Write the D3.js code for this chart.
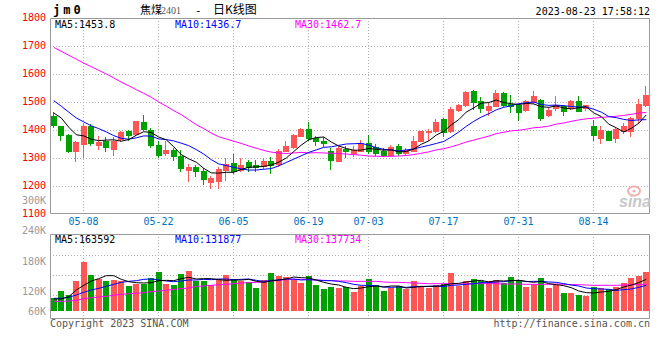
<!DOCTYPE html>
<html><head><meta charset="utf-8">
<script src="https://cdn.jsdelivr.net/npm/d3@7"></script>
<style>body{margin:0;background:#fff}svg{display:block}</style>
</head><body><svg id="c" width="660" height="360"></svg>
<script>
// ---------------- data ----------------
const dates = ["04-27","04-28","05-04","05-05","05-08","05-09","05-10","05-11","05-12","05-15","05-16","05-17","05-18","05-19","05-22","05-23","05-24","05-25","05-26","05-29","05-30","05-31",
"06-01","06-02","06-05","06-06","06-07","06-08","06-09","06-12","06-13","06-14","06-15","06-16","06-19","06-20","06-21","06-26","06-27","06-28","06-29","06-30",
"07-03","07-04","07-05","07-06","07-07","07-10","07-11","07-12","07-13","07-14","07-17","07-18","07-19","07-20","07-21","07-24","07-25","07-26","07-27","07-28","07-31",
"08-01","08-02","08-03","08-04","08-07","08-08","08-09","08-10","08-11","08-14","08-15","08-16","08-17","08-18","08-21","08-22","08-23"];
const open  = [1449,1413,1383,1324,1351,1415,1345,1362,1332,1369,1398,1386,1430,1401,1348,1318,1330,1308,1258,1267,1255,1213,1217,1256,1282,1256,1285,1276,1270,1290,1279,1326,1338,1380,1405,1371,1362,1324,1290,1333,1318,1326,1354,1338,1326,1312,1342,1318,1326,1362,1392,1395,1439,1398,1473,1488,1540,1505,1473,1487,1532,1493,1488,1473,1500,1508,1452,1479,1484,1479,1502,1479,1413,1371,1395,1371,1398,1398,1443,1490];
const high  = [1464,1415,1385,1360,1425,1423,1380,1374,1374,1395,1401,1433,1452,1407,1362,1360,1336,1330,1279,1276,1264,1234,1268,1300,1314,1300,1294,1294,1300,1302,1333,1362,1386,1407,1427,1380,1375,1336,1342,1342,1342,1365,1383,1350,1336,1345,1350,1336,1377,1398,1404,1439,1443,1481,1493,1538,1543,1517,1496,1544,1534,1524,1490,1508,1538,1512,1481,1520,1490,1508,1520,1490,1437,1413,1398,1407,1425,1445,1512,1558];
const low   = [1410,1363,1320,1288,1302,1345,1333,1326,1312,1362,1365,1383,1400,1338,1302,1312,1294,1252,1219,1234,1207,1192,1192,1223,1247,1252,1252,1252,1264,1246,1270,1324,1336,1377,1365,1345,1342,1262,1288,1302,1306,1324,1318,1312,1306,1310,1312,1312,1324,1360,1365,1393,1377,1393,1469,1486,1476,1464,1455,1484,1484,1464,1434,1469,1496,1437,1449,1473,1452,1476,1467,1473,1365,1354,1365,1357,1389,1380,1425,1484];
const close = [1417,1383,1326,1356,1415,1354,1357,1338,1360,1392,1383,1431,1405,1345,1312,1330,1308,1266,1267,1252,1224,1227,1262,1279,1252,1276,1267,1267,1290,1276,1326,1342,1383,1405,1371,1362,1352,1294,1336,1326,1330,1354,1326,1318,1310,1338,1318,1330,1362,1395,1398,1427,1393,1476,1490,1536,1500,1479,1487,1532,1490,1484,1464,1505,1520,1443,1473,1490,1467,1502,1469,1488,1381,1401,1365,1404,1415,1443,1494,1524];
const ma5  = [1461,1443,1410,1383,1379,1367,1362,1364,1365,1360,1366,1381,1394,1391,1375,1365,1340,1312,1297,1285,1263,1247,1246,1249,1249,1259,1267,1268,1270,1275,1285,1300,1323,1346,1365,1373,1375,1357,1343,1334,1328,1328,1334,1331,1328,1329,1322,1323,1332,1349,1361,1382,1395,1418,1437,1464,1479,1496,1498,1507,1498,1494,1491,1495,1493,1483,1481,1486,1479,1475,1480,1483,1461,1448,1421,1408,1393,1406,1424,1454];
const ma10 = [1505,1485,1464,1443,1429,1415,1405,1393,1380,1370,1367,1372,1379,1378,1368,1366,1361,1353,1344,1330,1314,1294,1279,1273,1267,1261,1257,1257,1260,1262,1272,1284,1296,1308,1320,1329,1338,1340,1345,1350,1351,1352,1346,1337,1331,1329,1325,1329,1332,1339,1345,1352,1359,1375,1393,1413,1431,1446,1458,1472,1481,1487,1494,1497,1500,1491,1488,1489,1487,1484,1482,1482,1474,1464,1448,1444,1438,1434,1436,1437];
const ma30 = [1695,1681,1667,1653,1639,1626,1613,1600,1586,1571,1558,1544,1531,1517,1500,1485,1469,1455,1437,1419,1405,1389,1376,1368,1360,1352,1343,1335,1327,1321,1318,1316,1318,1320,1318,1319,1318,1317,1316,1314,1312,1310,1307,1306,1306,1306,1307,1309,1312,1317,1322,1329,1333,1340,1348,1357,1364,1371,1378,1387,1392,1397,1399,1403,1408,1410,1414,1421,1425,1431,1436,1440,1442,1445,1447,1449,1452,1456,1460,1463];
const volume = [112,132,119,161,219,179,169,161,164,161,146,154,154,171,189,154,149,182,192,161,161,149,168,179,167,161,159,141,164,186,177,174,169,156,177,149,137,144,141,144,129,146,167,149,131,141,146,137,161,144,141,149,152,186,146,161,167,161,161,164,157,174,164,144,152,170,141,149,126,126,119,116,144,141,137,144,156,171,177,189].map(v => v * 1000);
const volMa5  = [108,108,115,135,149,162,169,178,178,167,160,157,156,157,163,164,163,169,173,168,169,169,166,164,165,165,167,161,158,162,165,168,174,172,171,165,158,153,150,143,139,141,145,147,144,147,147,141,143,146,146,146,149,154,155,159,162,164,159,163,162,163,164,161,158,161,154,151,148,142,132,127,126,129,131,136,144,150,157,167].map(v => v * 1000);
const volMa10 = [110,110,113,120,128,135,140,146,152,158,161,163,167,168,165,162,160,162,165,165,167,166,168,168,166,167,168,164,161,164,165,168,168,165,166,165,163,163,161,157,152,149,149,148,144,143,144,143,145,145,146,147,145,149,150,152,154,157,157,159,160,163,164,160,161,161,159,158,154,150,147,141,139,138,137,134,136,138,143,149].map(v => v * 1000);
const volMa30 = [101,101,102,104,109,112,114,116,119,122,124,125,127,130,132,134,137,139,141,146,147,149,151,152,154,156,157,158,159,162,164,166,167,167,166,165,164,163,162,162,161,161,161,161,159,158,158,157,156,155,154,154,154,154,153,153,154,154,154,154,153,153,153,152,152,152,152,153,152,151,151,150,149,149,149,149,150,151,151,153].map(v => v * 1000);

const priceTicks = [1100,1200,1300,1400,1500,1600,1700,1800];
const priceGrid = [1200,1300,1400,1500,1600,1700];
const volGrid = [120000,180000,240000];
const volLabelValues = [300000,240000,180000,120000,60000];
const volLabelTexts = ["300K","240K","180K","120K","60K"];
const dateTicks = ["05-08","05-22","06-05","06-19","07-03","07-17","07-31","08-14"];
const header = {code:"jm0", name:"焦煤", contract:"2401", title:"日K线图", time:"2023-08-23 17:58:12"};
const priceMaLabels = ["MA5:1453.8","MA10:1436.7","MA30:1462.7"];
const volMaLabels = ["MA5:163592","MA10:131877","MA30:137734"];

// ---------------- drawing ----------------
const svg = d3.select("#c");
const MONO = "'DejaVu Sans Mono', monospace";
const RED = "#ff5555", GREEN = "#00a000";
const L = 50, R = 650;
const P_TOP = 18, P_BOT = 214;
const V_TOP = 234, V_BASE = 311, V_BOT = 318;

const x = d3.scaleBand().domain(dates).range([L, R]).paddingInner(0.2).paddingOuter(0.1);
const cx = d => x(d) + x.bandwidth() / 2;
const yP = d3.scaleLinear().domain([1100, 1800]).range([P_BOT, P_TOP]);
const yV = d3.scaleLinear().domain([72000, 303000]).range([V_BASE, V_TOP]);
const yVLabel = d3.scaleLinear().domain(volLabelValues.slice().reverse()).range([315, 295, 265, 233.5, 204]);

const idx = d3.range(dates.length);
const isUp = i => close[i] >= open[i];

// Gridlines
const grid = svg.append("g").attr("stroke", "#b0b0b0").attr("stroke-dasharray", "1,2").attr("fill", "none");
priceGrid.forEach(v => {
  const yy = Math.round(yP(v)) + 0.5;
  grid.append("line").attr("x1", L).attr("x2", R).attr("y1", yy).attr("y2", yy);
});
volGrid.forEach(v => {
  const yy = Math.round(yV(v)) + 0.5;
  grid.append("line").attr("x1", L).attr("x2", R).attr("y1", yy).attr("y2", yy);
});
dateTicks.forEach(d => {
  const xx = Math.round(cx(d)) - 0.5;
  grid.append("line").attr("x1", xx).attr("x2", xx).attr("y1", P_TOP).attr("y2", P_BOT);
  grid.append("line").attr("x1", xx).attr("x2", xx).attr("y1", V_TOP).attr("y2", V_BOT);
});

// Frames
const frame = svg.append("g").attr("stroke", "#999").attr("fill", "none").attr("stroke-width", 1);
frame.append("path").attr("d", `M${L+0.5},${P_BOT-0.5}V${P_TOP+0.5}H${R-0.5}V${P_BOT-0.5}H${L+0.5}`);
frame.append("path").attr("d", `M${L+0.5},${V_BOT+0.5}V${V_TOP+0.5}H${R-0.5}V${V_BOT+0.5}H${L+0.5}`);

// watermark
const wm = svg.append("g");
wm.append("ellipse").attr("cx", 634).attr("cy", 191).attr("rx", 6).attr("ry", 4.5)
  .attr("fill", "none").attr("stroke", "#f4b0b0").attr("stroke-width", 2);
wm.append("circle").attr("cx", 634).attr("cy", 191).attr("r", 1.6).attr("fill", "#f4b0b0");
wm.append("text").attr("x", 619).attr("y", 207).attr("font-family", "'Liberation Sans', Arial, sans-serif")
  .attr("font-size", 16).attr("font-weight", "bold").attr("font-style", "italic").attr("fill", "#c8c8c8").text("sina");

// Candles
const cg = svg.append("g");
idx.forEach(i => {
  const d = dates[i];
  const col = isUp(i) ? RED : GREEN;
  const xc = Math.round(cx(d)) - 0.5;
  cg.append("line").attr("x1", xc).attr("x2", xc)
    .attr("y1", Math.round(yP(high[i]))).attr("y2", Math.round(yP(low[i])) + 1)
    .attr("stroke", col).attr("stroke-width", 1);
  const top = Math.round(yP(Math.max(open[i], close[i])));
  const bot = Math.round(yP(Math.min(open[i], close[i])));
  cg.append("rect").attr("x", Math.round(x(d))).attr("width", Math.round(x.bandwidth()))
    .attr("y", top).attr("height", Math.max(1, bot - top + 1)).attr("fill", col);
});

// Price MA lines
const lineP = arr => d3.line().x((d, i) => cx(dates[i])).y(v => yP(v))(arr);
[[ma30, "#ff00ff"], [ma10, "#0000ff"], [ma5, "#000000"]].forEach(([arr, c]) => {
  svg.append("path").attr("d", lineP(arr)).attr("fill", "none").attr("stroke", c).attr("stroke-width", 1);
});

// Volume bars
const vg = svg.append("g");
idx.forEach(i => {
  const d = dates[i];
  const top = Math.round(yV(volume[i]));
  vg.append("rect").attr("x", Math.round(x(d))).attr("width", Math.round(x.bandwidth()))
    .attr("y", top).attr("height", V_BASE - top).attr("fill", isUp(i) ? RED : GREEN);
});
const lineV = arr => d3.line().x((d, i) => cx(dates[i])).y(v => yV(v))(arr);
[[volMa30, "#ff00ff"], [volMa10, "#0000ff"], [volMa5, "#000000"]].forEach(([arr, c]) => {
  svg.append("path").attr("d", lineV(arr)).attr("fill", "none").attr("stroke", c).attr("stroke-width", 1);
});

// Price axis labels
const tx = svg.append("g").attr("font-family", MONO).attr("font-size", 10);
priceTicks.forEach(v => {
  tx.append("text").attr("x", 46).attr("y", yP(v) + 2.5).attr("text-anchor", "end").attr("fill", "#ff0000").text(v);
});
volLabelValues.forEach((v, k) => {
  tx.append("text").attr("x", 46).attr("y", yVLabel(v)).attr("text-anchor", "end").attr("fill", "#999").text(volLabelTexts[k]);
});
dateTicks.forEach(d => {
  tx.append("text").attr("x", Math.round(cx(d)) - 0.5).attr("y", 225).attr("text-anchor", "middle").attr("fill", "#0070c0").text(d);
});

// MA labels
const maCols = ["#000000", "#0000ff", "#ff00ff"];
const maX = [55, 175, 295];
priceMaLabels.forEach((t, k) => tx.append("text").attr("x", maX[k]).attr("y", 28).attr("fill", maCols[k]).text(t));
volMaLabels.forEach((t, k) => tx.append("text").attr("x", maX[k]).attr("y", 242.5).attr("fill", maCols[k]).text(t));

// Header
svg.append("text").attr("x", 53).attr("y", 13.5).attr("font-family", MONO).attr("font-size", 12)
  .attr("font-weight", "bold").attr("letter-spacing", 3).attr("fill", "#000").text(header.code);
const CJK = "'Noto Sans CJK SC', sans-serif";
svg.append("text").attr("x", 140).attr("y", 13.5).attr("font-family", CJK).attr("font-size", 11).attr("fill", "#000").text(header.name);
svg.append("text").attr("x", 161).attr("y", 13.5).attr("font-family", "'Liberation Serif', serif").attr("font-size", 10).attr("fill", "#555").text(header.contract);
svg.append("text").attr("x", 195).attr("y", 13.5).attr("font-family", MONO).attr("font-size", 11).attr("fill", "#000").text("-");
svg.append("text").attr("x", 213).attr("y", 13.5).attr("font-family", CJK).attr("font-size", 12).attr("fill", "#000").text(header.title);
svg.append("text").attr("x", 650).attr("y", 15).attr("text-anchor", "end").attr("font-family", MONO).attr("font-size", 10).attr("fill", "#000").text(header.time);

// Footer
svg.append("text").attr("x", 50).attr("y", 326.5).attr("font-family", MONO).attr("font-size", 10).attr("fill", "#555").text("Copyright 2023 SINA.COM");
svg.append("text").attr("x", 650).attr("y", 326.5).attr("text-anchor", "end").attr("font-family", MONO).attr("font-size", 10).attr("fill", "#555").text("http://finance.sina.com.cn");
</script>
</body></html>
